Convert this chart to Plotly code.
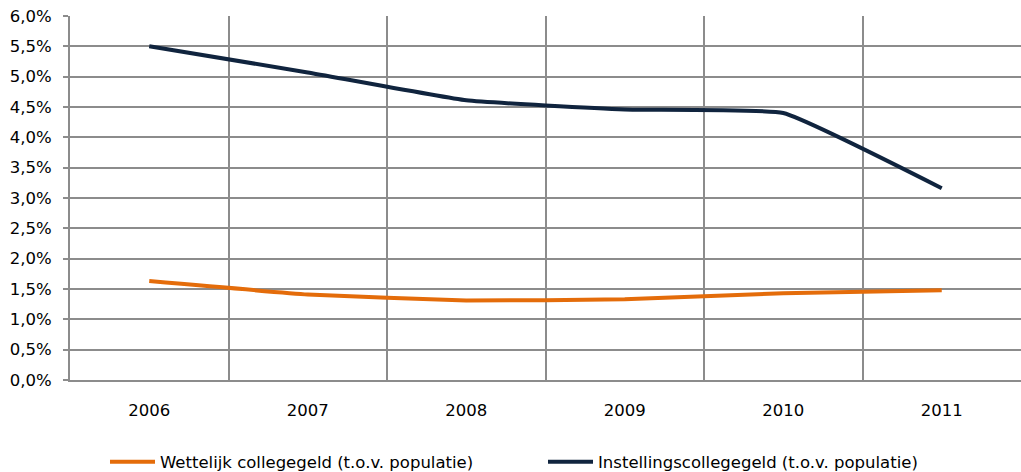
import plotly.graph_objects as go

years = ["2006", "2007", "2008", "2009", "2010", "2011"]
wettelijk = [0.0163, 0.0141, 0.0131, 0.0133, 0.0143, 0.0148]
instelling = [0.0550, 0.0507, 0.0461, 0.0446, 0.0440, 0.0316]
series_names = ["Wettelijk collegegeld (t.o.v. populatie)",
                "Instellingscollegegeld (t.o.v. populatie)"]
y_ticks = [i * 0.005 for i in range(13)]

FONT = "DejaVu Sans, Verdana, sans-serif"
GRID = "#8c8c8c"

fig = go.Figure()
fig.add_trace(go.Scatter(x=years, y=wettelijk, mode="lines", name=series_names[0],
                         line=dict(color="#E46C0A", width=4, shape="spline", smoothing=0.35)))
fig.add_trace(go.Scatter(x=years, y=instelling, mode="lines", name=series_names[1],
                         line=dict(color="#10243E", width=4, shape="spline", smoothing=0.35)))

fig.update_layout(
    width=1021, height=472,
    margin=dict(l=70, r=0, t=16, b=92, autoexpand=False),
    paper_bgcolor="white", plot_bgcolor="white",
    separators=",.",
    font=dict(family=FONT, size=16.5, color="#000000"),
    showlegend=True,
    legend=dict(orientation="h", x=0.0368, xanchor="left", y=-0.225, yanchor="middle",
                itemwidth=45, entrywidth=378, font=dict(family=FONT, size=16.5),
                bgcolor="rgba(0,0,0,0)", traceorder="normal"),
    xaxis=dict(type="category", range=[-0.5, 5.5], tickson="boundaries",
               showgrid=True, gridcolor=GRID, gridwidth=1.5,
               showline=True, linecolor=GRID, linewidth=2,
               ticks="", ticklabelstandoff=14, zeroline=False, fixedrange=True,
               automargin=False),
    yaxis=dict(range=[0, 0.06], tickvals=y_ticks, tickformat=".1%",
               showgrid=True, gridcolor=GRID, gridwidth=1.5,
               showline=True, linecolor=GRID, linewidth=2,
               ticks="outside", ticklen=5, tickcolor=GRID, tickwidth=1.5,
               ticklabelstandoff=8, zeroline=False, fixedrange=True,
               automargin=False),
)

fig.write_html("out.html", config={"displayModeBar": False},
               post_script="document.body.style.margin='0';document.body.style.padding='0';")
